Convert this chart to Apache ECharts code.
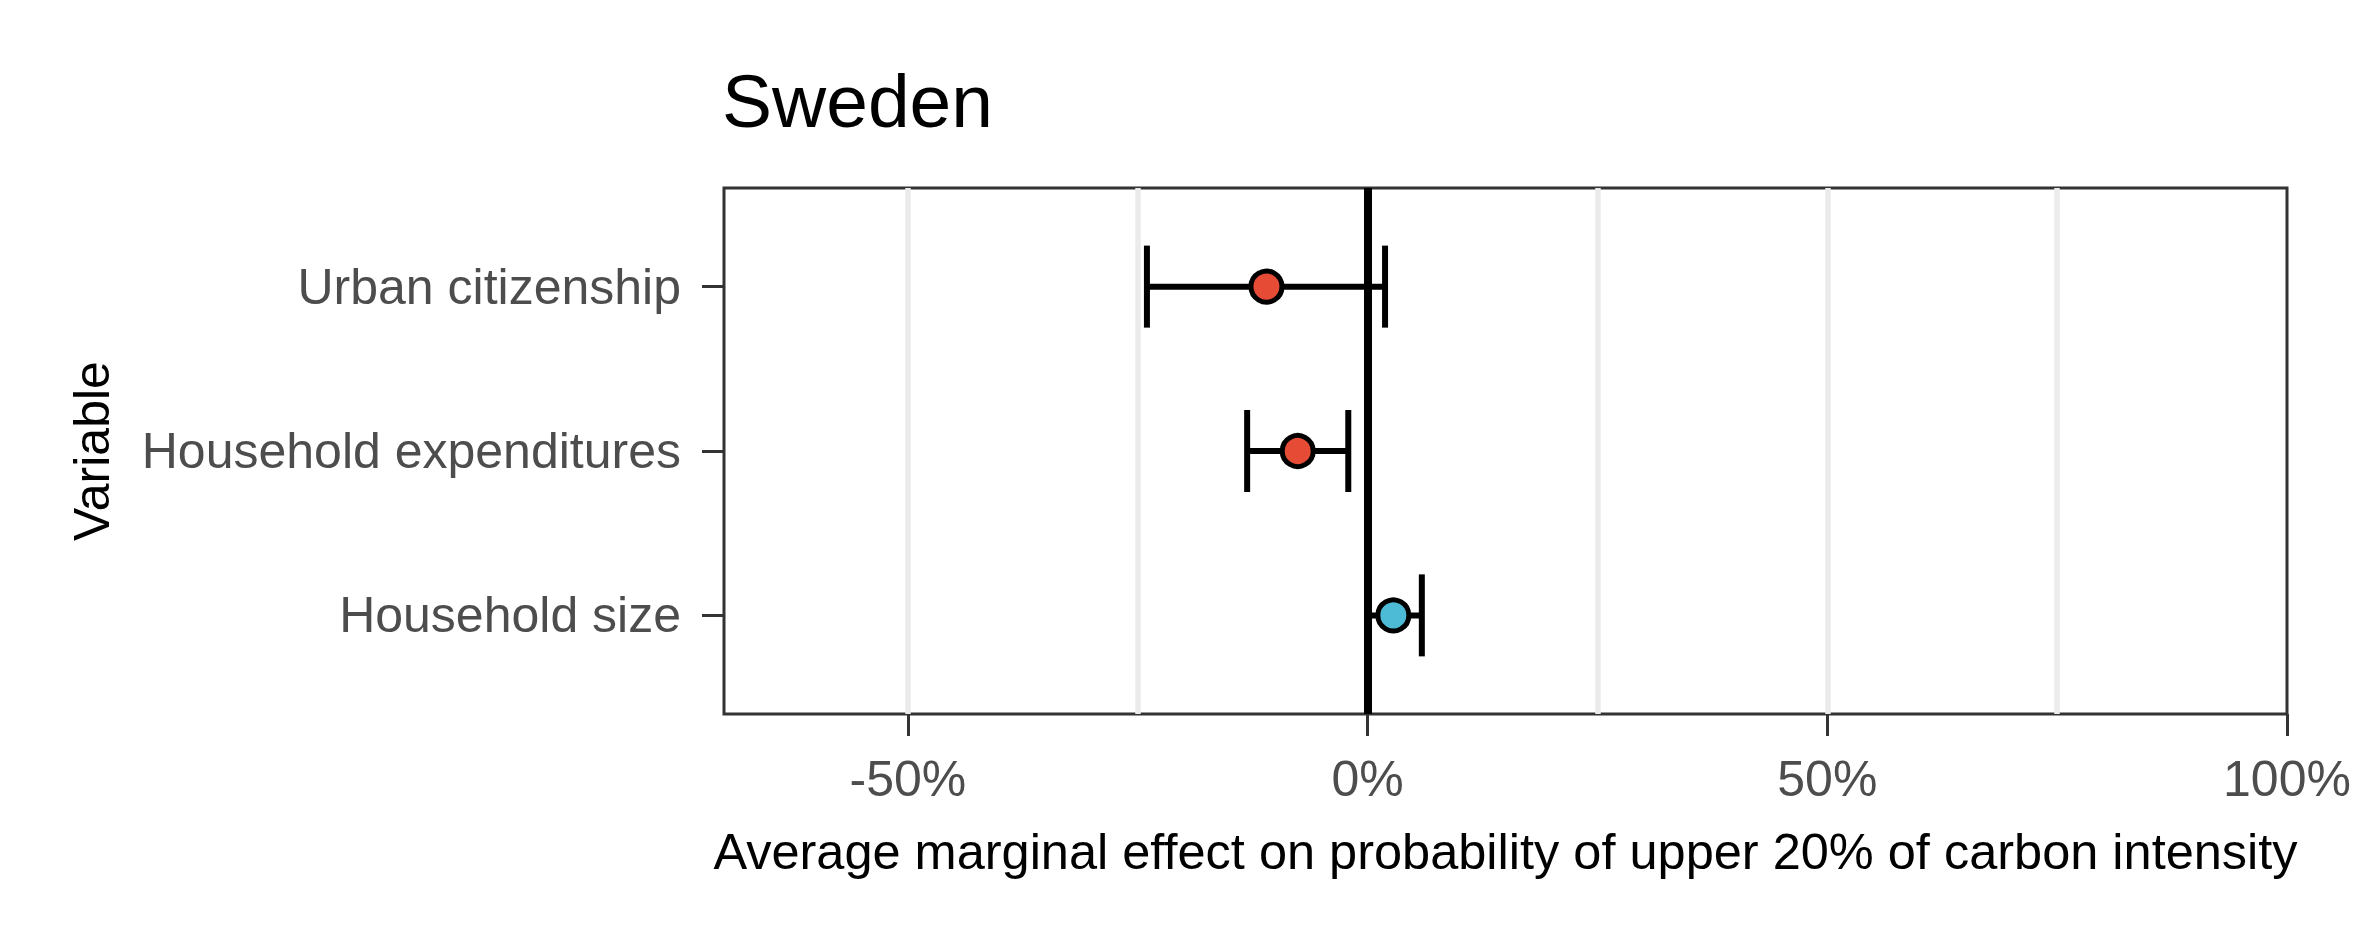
<!DOCTYPE html>
<html>
<head>
<meta charset="utf-8">
<title>Sweden</title>
<script src="https://cdn.jsdelivr.net/npm/echarts@6/dist/echarts.min.js"></script>
<style>
  html, body { margin: 0; padding: 0; background: #fff; }
  #main { width: 2362px; height: 944px; }
</style>
</head>
<body>
<div id="main"></div>
<script>
// 变量（从上到下）
const categories = ['Urban citizenship', 'Household expenditures', 'Household size'];
// 平均边际效应（%）及置信区间
const estimates = [-11.0, -7.6, 2.8];
const lowerCI = [-24.0, -13.1, 0.1];
const upperCI = [1.9, -2.1, 5.9];
// 坐标轴刻度
const xTicks = [-50, 0, 50, 100];
const gridValues = [-50, -25, 0, 25, 50, 75];

const FONT = "'Liberation Sans', Arial, sans-serif";
const RED = '#E64B35';
const BLUE = '#4DBBD5';

// 类别在 y 轴上的位置：最上面的类别值最大
const yPos = categories.map((c, i) => categories.length - i);

const chart = echarts.init(document.getElementById('main'), null, { renderer: 'svg' });

chart.setOption({
  animation: false,
  backgroundColor: '#fff',
  textStyle: { fontFamily: FONT },
  title: {
    text: 'Sweden',
    left: 722,
    top: 63,
    padding: 0,
    textStyle: { fontSize: 75, fontWeight: 'normal', color: '#000', fontFamily: FONT }
  },
  grid: {
    left: 724,
    top: 188,
    width: 1563,
    height: 526,
    show: true,
    borderColor: '#333',
    borderWidth: 3,
    backgroundColor: 'transparent'
  },
  xAxis: {
    type: 'value',
    min: -70,
    max: 100,
    name: 'Average marginal effect on probability of upper 20% of carbon intensity',
    nameLocation: 'middle',
    nameGap: 112,
    nameTextStyle: { fontSize: 50.5, color: '#000', fontFamily: FONT },
    axisLine: { show: false, onZero: false },
    axisTick: {
      show: true,
      customValues: xTicks,
      length: 22,
      lineStyle: { color: '#333', width: 3 }
    },
    axisLabel: {
      customValues: xTicks,
      margin: 40,
      fontSize: 50,
      color: '#4D4D4D',
      fontFamily: FONT,
      formatter: v => v + '%'
    },
    splitLine: { show: false }
  },
  yAxis: {
    type: 'value',
    min: 0.4,
    max: 3.6,
    axisLine: { show: false, onZero: false },
    axisTick: {
      show: true,
      customValues: yPos,
      length: 22,
      lineStyle: { color: '#333', width: 3 }
    },
    axisLabel: {
      customValues: yPos,
      margin: 43,
      fontSize: 50,
      color: '#4D4D4D',
      fontFamily: FONT,
      formatter: v => categories[categories.length - Math.round(v)]
    },
    splitLine: { show: false }
  },
  graphic: [{
    type: 'text',
    x: 92,
    y: 451,
    rotation: Math.PI / 2,
    style: {
      text: 'Variable',
      fontSize: 50,
      fontFamily: FONT,
      fill: '#000',
      align: 'center',
      verticalAlign: 'middle'
    }
  }],
  series: [
    {
      // 背景网格线
      type: 'scatter',
      data: [],
      z: 1,
      silent: true,
      markLine: {
        silent: true,
        symbol: 'none',
        label: { show: false },
        lineStyle: { color: '#EBEBEB', width: 5.5, type: 'solid' },
        data: gridValues.map(v => ({ xAxis: v }))
      }
    },
    {
      // 0 参考线
      type: 'scatter',
      data: [],
      z: 3,
      silent: true,
      markLine: {
        silent: true,
        symbol: 'none',
        label: { show: false },
        lineStyle: { color: '#000', width: 8, type: 'solid' },
        data: [{ xAxis: 0 }]
      }
    },
    {
      // 误差线
      type: 'custom',
      z: 4,
      data: categories.map((c, i) => [lowerCI[i], upperCI[i], yPos[i]]),
      encode: { x: [0, 1], y: 2 },
      renderItem: function (params, api) {
        const p1 = api.coord([api.value(0), api.value(2)]);
        const p2 = api.coord([api.value(1), api.value(2)]);
        const h = 41;
        const style = { stroke: '#000', lineWidth: 6 };
        return {
          type: 'group',
          children: [
            { type: 'line', shape: { x1: p1[0], y1: p1[1], x2: p2[0], y2: p2[1] }, style },
            { type: 'line', shape: { x1: p1[0], y1: p1[1] - h, x2: p1[0], y2: p1[1] + h }, style },
            { type: 'line', shape: { x1: p2[0], y1: p2[1] - h, x2: p2[0], y2: p2[1] + h }, style }
          ]
        };
      }
    },
    {
      // 点估计
      type: 'scatter',
      z: 5,
      symbol: 'circle',
      symbolSize: 31,
      data: categories.map((c, i) => ({
        value: [estimates[i], yPos[i]],
        itemStyle: { color: estimates[i] < 0 ? RED : BLUE }
      })),
      itemStyle: { borderColor: '#000', borderWidth: 5, opacity: 1 }
    }
  ]
});
</script>
</body>
</html>
